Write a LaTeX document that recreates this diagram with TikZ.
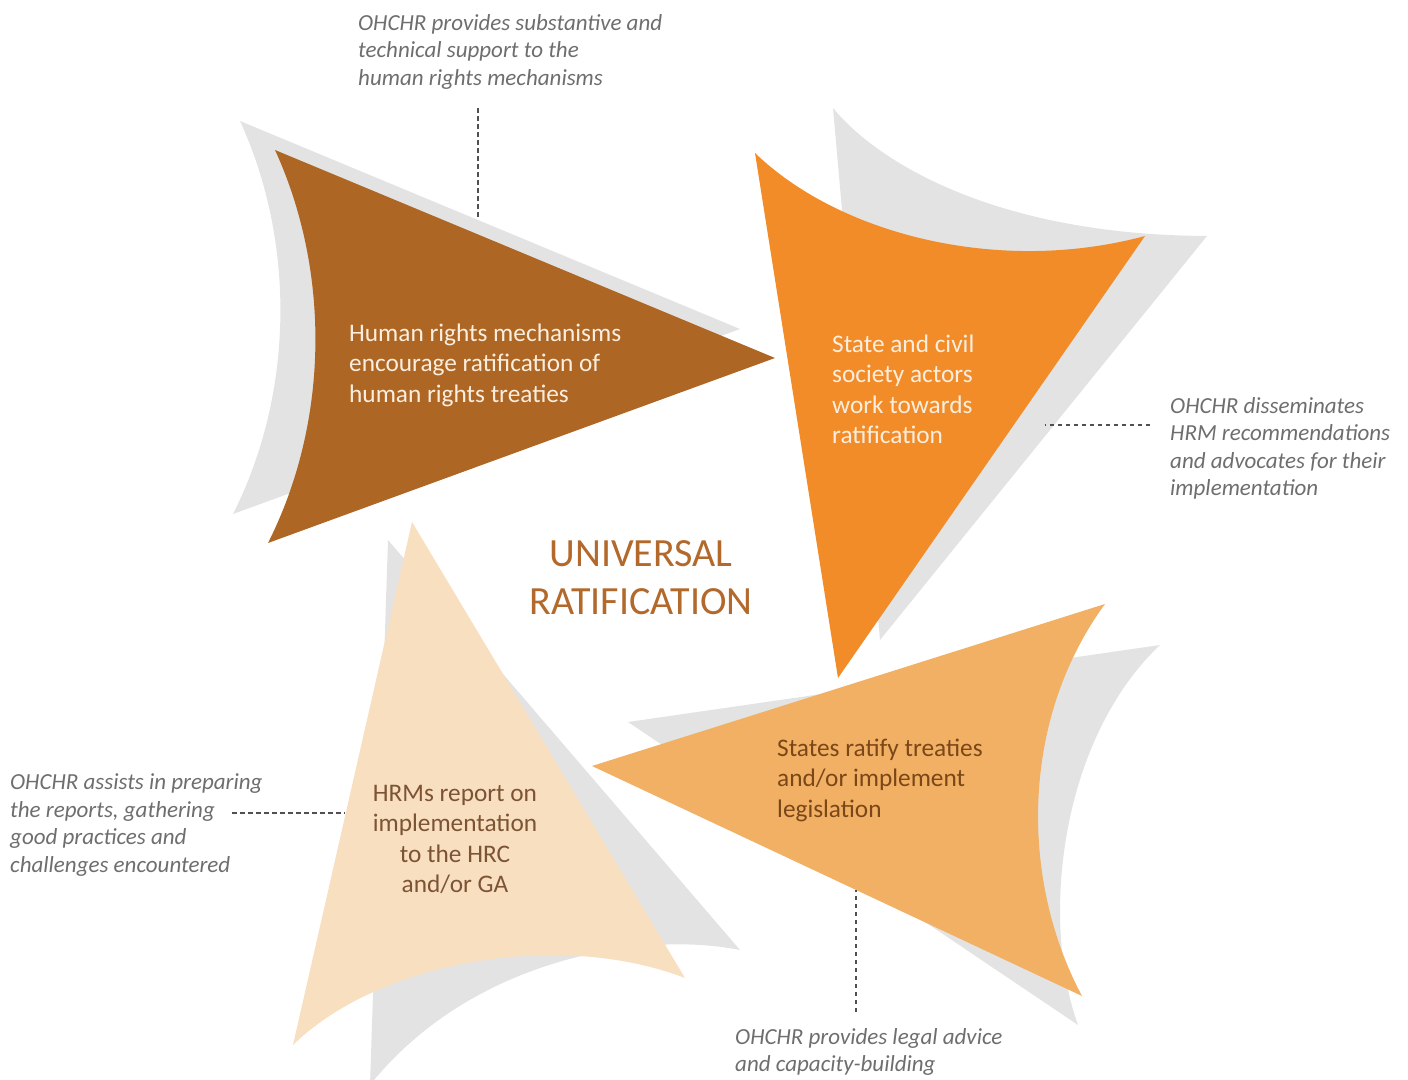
\documentclass[tikz,border=0pt]{standalone}
\usepackage{fontspec}
\setmainfont{Carlito}
\definecolor{cBrown}{HTML}{AD6624}
\definecolor{cOrange}{HTML}{F18C29}
\definecolor{cLight}{HTML}{F2B064}
\definecolor{cPeach}{HTML}{F8DFC0}
\definecolor{cShadow}{HTML}{E3E3E3}
\definecolor{cNote}{HTML}{6E6E6E}
\definecolor{cDots}{HTML}{505050}
\definecolor{cCream}{HTML}{FBEEDF}
\definecolor{cDarkText}{HTML}{7A4718}
\definecolor{cPeachText}{HTML}{7C5434}
\definecolor{cTitle}{HTML}{B2692B}
\begin{document}
\begin{tikzpicture}[x=1pt,y=-1pt,
  shadow/.style={fill=cShadow},
  note/.style={text=cNote,align=left,inner sep=0pt,anchor=west,
    font=\fontsize{23}{27.5}\selectfont\itshape},
  body/.style={align=left,inner sep=0pt,anchor=west,
    font=\fontsize{25.3}{30.5}\selectfont},
  title/.style={text=cTitle,align=center,inner sep=0pt,
    font=\fontsize{40}{48}\selectfont},
  dotline/.style={draw=cDots,line width=2.8pt,dash pattern=on 4.5pt off 3.5pt}]
\useasboundingbox (0,0) rectangle (1408,1079);

% grey shadows behind the four blades
\fill[shadow] (240,121) -- (740,329) -- (233,514)
  .. controls (295,391) and (295,241) .. (240,121) -- cycle;
\fill[shadow] (833,108) .. controls (880,165) and (1000,235) .. (1207,236)
  -- (880,640) -- cycle;
\fill[shadow] (628,722) -- (1160,645) .. controls (1060,740) and (1040,920) .. (1078,1025) -- cycle;
\fill[shadow] (388,540) -- (740,950) .. controls (640,930) and (470,960) .. (370,1085) -- cycle;

% the four blades
\fill[cBrown] (275,150) -- (775,358) -- (268,543)
  .. controls (330,420) and (330,270) .. (275,150) -- cycle;
\fill[cOrange] (755,153) .. controls (840,235) and (1000,275) .. (1145,236)
  -- (838,678) -- cycle;
\fill[cLight] (592,766) -- (1105,604) .. controls (1020,720) and (1020,880) .. (1082,996) -- cycle;
\fill[cPeach] (412,522) -- (685,978) .. controls (560,930) and (380,960) .. (293,1045) -- cycle;

% texts inside the blades
\node[body,text=cCream] (mech) at (349,365)
  {Human rights mechanisms\\encourage ratification of\\human rights treaties};
\node[body,text=cCream] (civil) at (832,389.5)
  {State and civil\\society actors\\work towards\\ratification};
\node[body,text=cDarkText] (states) at (777,780)
  {States ratify treaties\\and/or implement\\legislation};
\node[body,text=cPeachText,align=center,anchor=center] (report) at (455,839.5)
  {HRMs report on\\implementation\\to the HRC\\and/or GA};

% centre title
\node[title] (univ) at (641,578) {UNIVERSAL\\RATIFICATION};

% OHCHR notes
\node[note] (n1) at (358,51.5)
  {OHCHR provides substantive and\\technical support to the\\human rights mechanisms};
\node[note] (n2) at (1170,448.5)
  {OHCHR disseminates\\HRM recommendations\\and advocates for their\\implementation};
\node[note] (n3) at (10,825)
  {OHCHR assists in preparing\\the reports, gathering\\good practices and\\challenges encountered};
\node[note] (n4) at (735,1052)
  {OHCHR provides legal advice\\and capacity-building};

% dotted leaders from the notes to the blades
\coordinate (n1a) at (478,108);
\coordinate (n1b) at (478,218);
\coordinate (n2a) at (1150,425);
\coordinate (n2b) at (1045,425);
\coordinate (n3a) at (232,813);
\coordinate (n3b) at (345,813);
\coordinate (n4a) at (856,1012);
\coordinate (n4b) at (856,890);
\draw[dotline] (n1a) -- (n1b);
\draw[dotline] (n2a) -- (n2b);
\draw[dotline] (n3a) -- (n3b);
\draw[dotline] (n4a) -- (n4b);
\end{tikzpicture}
\end{document}
